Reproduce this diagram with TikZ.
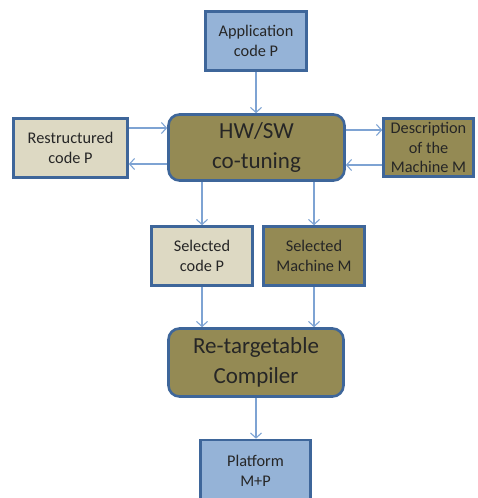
\documentclass[tikz,border=0pt]{standalone}
\usepackage{fontspec}
\setmainfont{Carlito}
\usetikzlibrary{arrows.meta,calc}
\definecolor{boxblue}{HTML}{95B3D7}
\definecolor{edgeblue}{HTML}{3E669A}
\definecolor{olive}{HTML}{948A54}
\definecolor{beige}{HTML}{DDD9C3}
\definecolor{linkblue}{HTML}{7EA3D3}
\definecolor{inktext}{HTML}{262626}
\tikzset{
  x=1pt, y=1pt,
  box/.style={draw=edgeblue, line width=2.6pt, rectangle, align=center,
    text=inktext, font=\fontsize{16.3}{19.5}\selectfont, inner sep=1pt},
  bluebox/.style={box, fill=boxblue},
  olivebox/.style={box, fill=olive},
  beigebox/.style={box, fill=beige},
  bigbox/.style={box, fill=olive, rounded corners=11pt,
    font=\fontsize{23}{29.5}\selectfont},
  arr/.style={draw=linkblue, line width=1.1pt,
    -{Straight Barb[length=5pt,width=11pt,line width=1.1pt]}}
}
\begin{document}
\begin{tikzpicture}
\useasboundingbox (0,0) rectangle (477,-498);
\begin{scope}
\clip (0,0) rectangle (477,-498);
\node[bluebox, minimum width=101pt, minimum height=59pt] (app) at (256,-41) {Application\\code P};
\node[bigbox, minimum width=176pt, minimum height=66pt] (hw) at (256.5,-147.5) {HW/SW\\co-tuning};
\node[beigebox, minimum width=114pt, minimum height=59pt] (restr) at (70.5,-148) {Restructured\\code P};
\node[olivebox, minimum width=90pt, minimum height=58pt] (desc) at (428.5,-147.5) {Description\\of the\\Machine M};
\node[beigebox, minimum width=101pt, minimum height=59pt] (selcode) at (202,-256) {Selected\\code P};
\node[olivebox, minimum width=101pt, minimum height=59pt] (selmach) at (314,-256) {Selected\\Machine M};
\node[bigbox, minimum width=175pt, minimum height=68pt] (comp) at (256,-362.5) {Re-targetable\\Compiler};
\node[bluebox, minimum width=110pt, minimum height=62pt] (plat) at (255.5,-471) {Platform\\M+P};

\draw[arr] (app.south) -- (app.south |- hw.north);
\draw[arr] ([yshift=20pt]restr.east) -- ([yshift=20pt]restr.east -| hw.west);
\draw[arr] ([yshift=-16pt]restr.east -| hw.west) -- ([yshift=-16pt]restr.east);
\draw[arr] ([yshift=17.5pt]desc.west -| hw.east) -- ([yshift=17.5pt]desc.west);
\draw[arr] ([yshift=-17.5pt]desc.west) -- ([yshift=-17.5pt]desc.west -| hw.east);
\draw[arr] (selcode.north |- hw.south) -- (selcode.north);
\draw[arr] (selmach.north |- hw.south) -- (selmach.north);
\draw[arr] (selcode.south) -- (selcode.south |- comp.north);
\draw[arr] (selmach.south) -- (selmach.south |- comp.north);
\draw[arr] (comp.south) -- (comp.south |- plat.north);
\end{scope}
\end{tikzpicture}
\end{document}
